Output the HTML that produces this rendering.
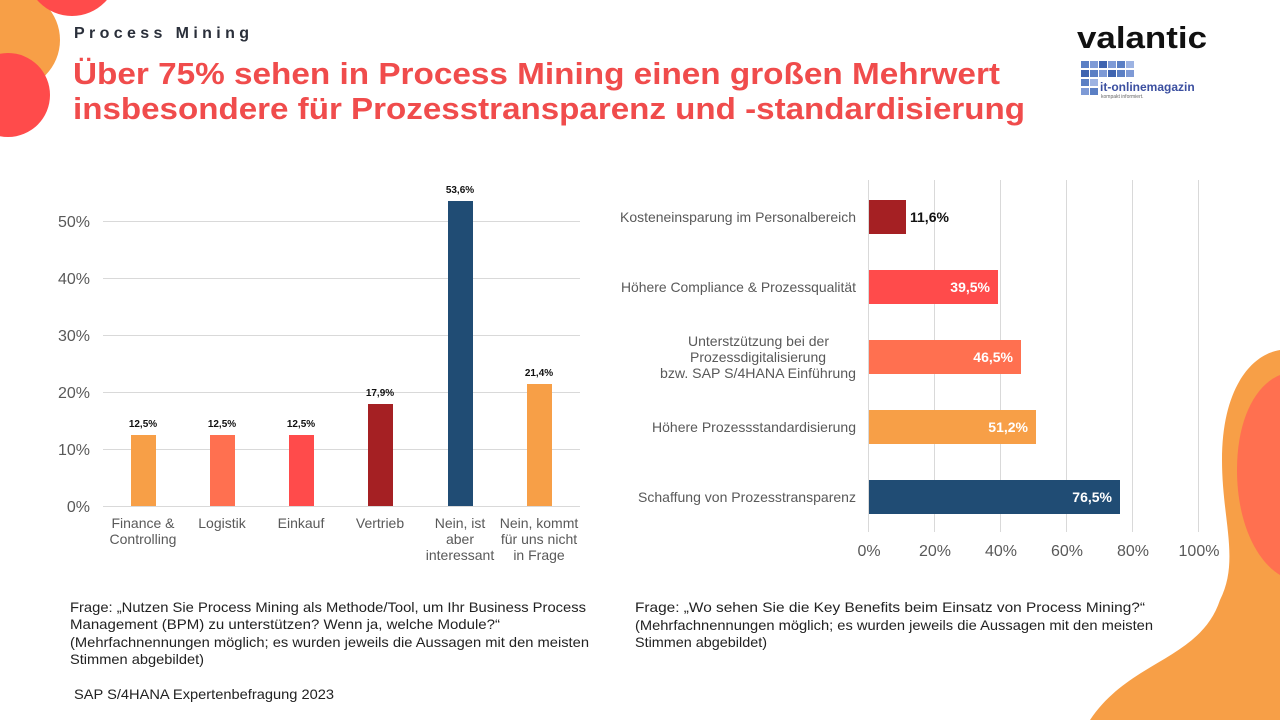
<!DOCTYPE html>
<html><head><meta charset="utf-8"><style>
html,body{margin:0;padding:0;background:#fff}
body{width:1280px;height:720px;overflow:hidden;position:relative;font-family:"Liberation Sans",Arial,sans-serif}
svg{position:absolute;left:0;top:0}
</style></head><body>
<svg width="1280" height="720" viewBox="0 0 1280 720" font-family="Liberation Sans, Arial, sans-serif">
<circle cx="10" cy="40" r="50" fill="#F79F47"/>
<circle cx="72" cy="-30" r="46" fill="#FF4B4B"/>
<circle cx="8" cy="95" r="42" fill="#FF4B4B"/>
<path d="M1280 350 C1250 355 1222 390 1222 460 C1222 520 1240 560 1220 600 C1200 660 1130 660 1090 720 L1280 720 Z" fill="#F79F47"/>
<path d="M1280 375 C1255 385 1237 420 1237 470 C1237 520 1255 560 1280 575 Z" fill="#FF7050"/>
<text x="74" y="38" font-size="16" font-weight="bold" fill="#2A2F3A" textLength="175" lengthAdjust="spacing">Process Mining</text>
<text x="73" y="84" font-size="31" font-weight="bold" fill="#F04C4C" textLength="927" lengthAdjust="spacingAndGlyphs">Über 75% sehen in Process Mining einen großen Mehrwert</text>
<text x="73" y="119" font-size="31" font-weight="bold" fill="#F04C4C" textLength="952" lengthAdjust="spacingAndGlyphs">insbesondere für Prozesstransparenz und -standardisierung</text>
<text x="1077" y="48" font-size="31" font-weight="bold" fill="#111" textLength="130" lengthAdjust="spacingAndGlyphs">valantic</text>
<g fill="#5B7FC4">
<rect x="1081" y="61" width="8" height="7"/><rect x="1090" y="61" width="8" height="7" fill="#7E9AD6"/><rect x="1099" y="61" width="8" height="7" fill="#3F64B0"/><rect x="1108" y="61" width="8" height="7" fill="#7E9AD6"/><rect x="1117" y="61" width="8" height="7"/><rect x="1126" y="61" width="8" height="7" fill="#9DB3E2"/>
<rect x="1081" y="70" width="8" height="7" fill="#3F64B0"/><rect x="1090" y="70" width="8" height="7"/><rect x="1099" y="70" width="8" height="7" fill="#7E9AD6"/><rect x="1108" y="70" width="8" height="7" fill="#3F64B0"/><rect x="1117" y="70" width="8" height="7"/><rect x="1126" y="70" width="8" height="7" fill="#7E9AD6"/>
<rect x="1081" y="79" width="8" height="7"/><rect x="1090" y="79" width="8" height="7" fill="#9DB3E2"/>
<rect x="1081" y="88" width="8" height="7" fill="#7E9AD6"/><rect x="1090" y="88" width="8" height="7"/>
</g>
<text x="1100" y="91" font-size="12" font-weight="bold" fill="#3B4FA0">it-onlinemagazin</text>
<text x="1101" y="98" font-size="5" fill="#666">kompakt informiert.</text>
<g stroke="#D9D9D9" stroke-width="1">
<line x1="103" x2="580" y1="221.5" y2="221.5"/><line x1="103" x2="580" y1="278.5" y2="278.5"/>
<line x1="103" x2="580" y1="335.5" y2="335.5"/><line x1="103" x2="580" y1="392.5" y2="392.5"/>
<line x1="103" x2="580" y1="449.5" y2="449.5"/><line x1="103" x2="580" y1="506.5" y2="506.5"/>
</g>
<g font-size="16" fill="#595959" text-anchor="end">
<text x="90" y="227">50%</text><text x="90" y="284">40%</text><text x="90" y="341">30%</text>
<text x="90" y="398">20%</text><text x="90" y="455">10%</text><text x="90" y="512">0%</text>
</g>
<rect x="131" y="435" width="25" height="71" fill="#F79F47"/>
<rect x="210" y="435" width="25" height="71" fill="#FF7050"/>
<rect x="289" y="435" width="25" height="71" fill="#FF4B4B"/>
<rect x="368" y="404" width="25" height="102" fill="#A52023"/>
<rect x="448" y="201" width="25" height="305" fill="#204C74"/>
<rect x="527" y="384" width="25" height="122" fill="#F79F47"/>
<g font-size="10" font-weight="bold" fill="#111" text-anchor="middle">
<text x="143" y="427">12,5%</text><text x="222" y="427">12,5%</text><text x="301" y="427">12,5%</text>
<text x="380" y="396">17,9%</text><text x="460" y="193">53,6%</text><text x="539" y="376">21,4%</text>
</g>
<g font-size="14" fill="#595959" text-anchor="middle">
<text x="143" y="528">Finance &amp;</text><text x="143" y="544">Controlling</text>
<text x="222" y="528">Logistik</text><text x="301" y="528">Einkauf</text><text x="380" y="528">Vertrieb</text>
<text x="460" y="528">Nein, ist</text><text x="460" y="544">aber</text><text x="460" y="560">interessant</text>
<text x="539" y="528">Nein, kommt</text><text x="539" y="544">für uns nicht</text><text x="539" y="560">in Frage</text>
</g>
<g stroke="#D9D9D9" stroke-width="1">
<line x1="868.5" x2="868.5" y1="180" y2="532"/><line x1="934.5" x2="934.5" y1="180" y2="532"/>
<line x1="1000.5" x2="1000.5" y1="180" y2="532"/><line x1="1066.5" x2="1066.5" y1="180" y2="532"/>
<line x1="1132.5" x2="1132.5" y1="180" y2="532"/><line x1="1198.5" x2="1198.5" y1="180" y2="532"/>
</g>
<g font-size="16" fill="#595959" text-anchor="middle">
<text x="869" y="556">0%</text><text x="935" y="556">20%</text><text x="1001" y="556">40%</text>
<text x="1067" y="556">60%</text><text x="1133" y="556">80%</text><text x="1199" y="556">100%</text>
</g>
<rect x="869" y="200" width="37" height="34" fill="#A52023"/>
<rect x="869" y="270" width="129" height="34" fill="#FF4B4B"/>
<rect x="869" y="340" width="152" height="34" fill="#FF7050"/>
<rect x="869" y="410" width="167" height="34" fill="#F79F47"/>
<rect x="869" y="480" width="251" height="34" fill="#204C74"/>
<g font-size="14" font-weight="bold">
<text x="910" y="222" fill="#111">11,6%</text>
<text x="990" y="292" fill="#fff" text-anchor="end">39,5%</text>
<text x="1013" y="362" fill="#fff" text-anchor="end">46,5%</text>
<text x="1028" y="432" fill="#fff" text-anchor="end">51,2%</text>
<text x="1112" y="502" fill="#fff" text-anchor="end">76,5%</text>
</g>
<g font-size="14" fill="#595959">
<text x="620" y="222" textLength="236" lengthAdjust="spacingAndGlyphs">Kosteneinsparung im Personalbereich</text>
<text x="621" y="292" textLength="235" lengthAdjust="spacingAndGlyphs">Höhere Compliance &amp; Prozessqualität</text>
<text x="688" y="346" textLength="141" lengthAdjust="spacingAndGlyphs">Unterstzützung bei der</text>
<text x="690" y="362" textLength="136" lengthAdjust="spacingAndGlyphs">Prozessdigitalisierung</text>
<text x="660" y="378" textLength="196" lengthAdjust="spacingAndGlyphs">bzw. SAP S/4HANA Einführung</text>
<text x="652" y="432" textLength="204" lengthAdjust="spacingAndGlyphs">Höhere Prozessstandardisierung</text>
<text x="638" y="502" textLength="218" lengthAdjust="spacingAndGlyphs">Schaffung von Prozesstransparenz</text>
</g>
<g font-size="14" fill="#222" lengthAdjust="spacingAndGlyphs">
<text x="70" y="612" textLength="516" lengthAdjust="spacingAndGlyphs">Frage: „Nutzen Sie Process Mining als Methode/Tool,  um Ihr Business Process</text>
<text x="70" y="629" textLength="430" lengthAdjust="spacingAndGlyphs">Management (BPM) zu unterstützen? Wenn ja, welche Module?“</text>
<text x="70" y="647" textLength="519" lengthAdjust="spacingAndGlyphs">(Mehrfachnennungen möglich; es wurden jeweils die Aussagen mit den meisten</text>
<text x="70" y="664" textLength="134" lengthAdjust="spacingAndGlyphs">Stimmen abgebildet)</text>
<text x="74" y="699" textLength="260" lengthAdjust="spacingAndGlyphs">SAP S/4HANA Expertenbefragung 2023</text>
<text x="635" y="612" textLength="510" lengthAdjust="spacingAndGlyphs">Frage: „Wo sehen Sie die Key Benefits beim Einsatz von Process Mining?“</text>
<text x="635" y="630" textLength="518" lengthAdjust="spacingAndGlyphs">(Mehrfachnennungen möglich; es wurden jeweils die Aussagen mit den meisten</text>
<text x="635" y="647" textLength="132" lengthAdjust="spacingAndGlyphs">Stimmen abgebildet)</text>
</g>
</svg>
</body></html>
